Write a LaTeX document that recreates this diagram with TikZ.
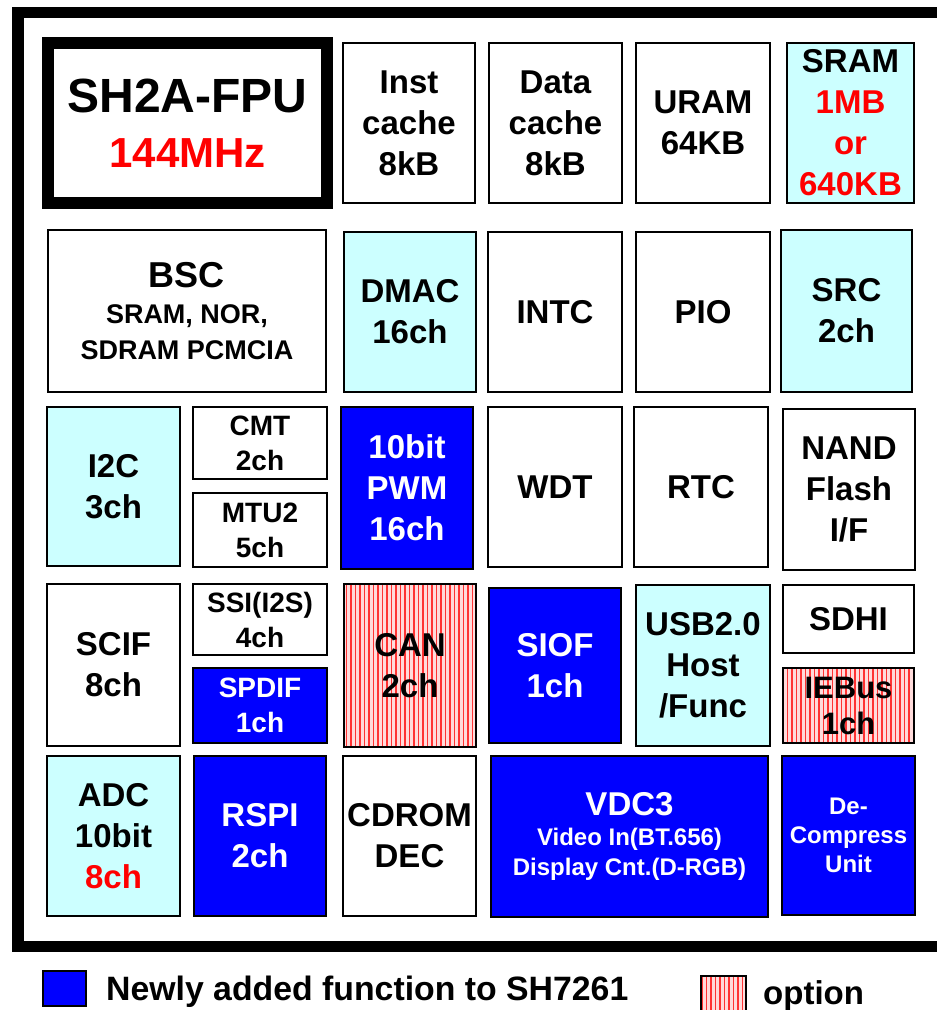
\documentclass[tikz,border=0pt]{standalone}
\usepackage{fontspec}
\setmainfont{Liberation Sans}
\usetikzlibrary{patterns.meta}
\definecolor{lc}{HTML}{CCFFFF}
\definecolor{nb}{HTML}{0000FF}
\definecolor{rd}{HTML}{FF0000}
\newcommand\fs[2]{\fontsize{#1}{#2}\selectfont}
\newcommand\blk[7]{\node[#6, minimum width={(#4-#2)*1pt}, minimum height={(#5-#3)*1pt}] (#1) at ({(#2+#4)/2},{(#3+#5)/2}) {#7};}
\begin{document}
\begin{tikzpicture}[x=1pt,y=-1pt,
  blk/.style={draw=black, line width=2pt, inner sep=0pt, align=center, font=\bfseries\fs{33}{41}},
  plainbox/.style={blk, fill=white},
  cybox/.style={blk, fill=lc},
  bluebox/.style={blk, fill=nb, text=white},
  optbox/.style={blk, preaction={fill=red!14}, pattern={Lines[angle=90, distance=4.5pt, line width=1.6pt]}, pattern color=red!80},
  smallbox/.style={font=\bfseries\fs{28}{35}},
  legtext/.style={anchor=base west, inner sep=0pt, font=\bfseries\fs{33.8}{40}}
]
\useasboundingbox (0,0) rectangle (937,1010);
\clip (0,0) rectangle (937,1010);
\fill[white] (0,0) rectangle (937,1010);
% outer frame
\draw[line width=11.5pt] (18,12.5) rectangle (990,946.5);

% row 1
\blk{cpu}{48}{43}{327}{203}{plainbox, line width=12pt, font=\bfseries\fs{48}{55}}{SH2A-FPU\\\textcolor{rd}{\fontsize{42}{55}\selectfont 144MHz}}
\blk{icache}{343}{43}{475}{203}{plainbox}{Inst\\cache\\8kB}
\blk{dcache}{489}{43}{622}{203}{plainbox}{Data\\cache\\8kB}
\blk{uram}{636}{43}{770}{203}{plainbox}{URAM\\64KB}
\blk{sram}{787}{43}{914}{203}{cybox}{SRAM\\\textcolor{rd}{1MB}\\\textcolor{rd}{or}\\\textcolor{rd}{640KB}}

% row 2
\blk{bsc}{48}{230}{326}{392}{plainbox, font=\bfseries\fs{36}{36}}{BSC\\{\fs{27}{36}SRAM, NOR,}\\{\fs{27}{36}SDRAM PCMCIA}}
\blk{dmac}{344}{232}{476}{392}{cybox}{DMAC\\16ch}
\blk{intc}{488}{232}{622}{392}{plainbox}{INTC}
\blk{pio}{636}{232}{770}{392}{plainbox}{PIO}
\blk{src}{781}{230}{912}{392}{cybox}{SRC\\2ch}

% row 3
\blk{iic}{47}{407}{180}{566}{cybox}{I2C\\3ch}
\blk{cmt}{193}{407}{327}{479}{plainbox, smallbox}{CMT\\2ch}
\blk{mtu}{193}{493}{327}{567}{plainbox, smallbox}{MTU2\\5ch}
\blk{pwm}{341}{407}{473}{569}{bluebox}{10bit\\PWM\\16ch}
\blk{wdt}{488}{407}{622}{567}{plainbox}{WDT}
\blk{rtc}{634}{407}{768}{567}{plainbox}{RTC}
\blk{nand}{783}{409}{915}{570}{plainbox}{NAND\\Flash\\I/F}

% row 4
\blk{scif}{47}{584}{180}{746}{plainbox}{SCIF\\8ch}
\blk{ssi}{193}{584}{327}{655}{plainbox, smallbox}{SSI(I2S)\\4ch}
\blk{spdif}{193}{668}{327}{743}{bluebox, smallbox}{SPDIF\\1ch}
\blk{can}{344}{584}{476}{747}{optbox}{CAN\\2ch}
\blk{siof}{489}{588}{621}{743}{bluebox}{SIOF\\1ch}
\blk{usb}{636}{585}{770}{746}{cybox}{USB2.0\\Host\\/Func}
\blk{sdhi}{783}{585}{914}{653}{plainbox}{SDHI}
\blk{iebus}{783}{668}{914}{743}{optbox, font=\bfseries\fs{31}{36}}{IEBus\\1ch}

% row 5
\blk{adc}{47}{756}{180}{916}{cybox}{ADC\\10bit\\\textcolor{rd}{8ch}}
\blk{rspi}{194}{756}{326}{916}{bluebox}{RSPI\\2ch}
\blk{cdrom}{343}{756}{476}{916}{plainbox}{CDROM\\DEC}
\blk{vdc}{491}{756}{768}{917}{bluebox, font=\bfseries\fs{24}{30}}{{\fs{33}{30}VDC3}\\Video In(BT.656)\\Display Cnt.(D-RGB)}
\blk{decomp}{782}{756}{915}{915}{bluebox, font=\bfseries\fs{24}{29}}{De-\\Compress\\Unit}

% legend
\blk{legnew}{43}{971}{86}{1006}{blk, fill=nb}{}
\node[legtext] (legnewtxt) at (106,1000) {Newly added function to SH7261};
\blk{legopt}{701}{976}{746}{1012}{optbox}{}
\node[legtext, font=\bfseries\fs{33}{40}] (legopttxt) at (763,1004) {option};
\end{tikzpicture}
\end{document}
